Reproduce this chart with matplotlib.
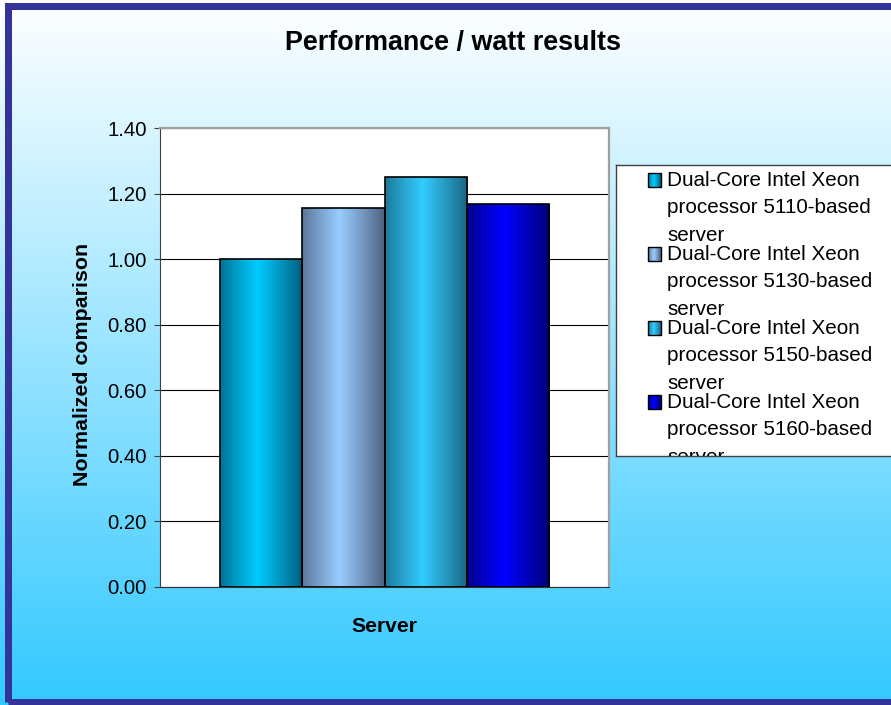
import numpy as np
import matplotlib
matplotlib.use("Agg")
import matplotlib.pyplot as plt
from matplotlib.patches import Rectangle
from matplotlib.colors import to_rgb

plt.rcParams['font.family'] = ['Liberation Sans', 'DejaVu Sans']

# ---- data ----
series = ["Dual-Core Intel Xeon\nprocessor 5110-based\nserver",
          "Dual-Core Intel Xeon\nprocessor 5130-based\nserver",
          "Dual-Core Intel Xeon\nprocessor 5150-based\nserver",
          "Dual-Core Intel Xeon\nprocessor 5160-based\nserver"]
values = [1.00, 1.157, 1.252, 1.168]
yticks = [0.0, 0.2, 0.4, 0.6, 0.8, 1.0, 1.2, 1.4]
title = "Performance / watt results"
xlabel = "Server"
ylabel = "Normalized comparison"

# gradient colours (edge dark, centre bright)
dark_cols = ["#005a78", "#4a5f7c", "#16627e", "#00006e"]
light_cols = ["#00ccff", "#99ccff", "#33ccff", "#0000ff"]

W, H = 891, 705
fig = plt.figure(figsize=(W / 100, H / 100), dpi=100)

def fx(px):
    return px / W

def fy(py):
    return 1 - py / H

# background gradient
bg = fig.add_axes([0, 0, 1, 1], zorder=-10)
grad = np.linspace(0, 1, 256)[:, None]
top = np.array(to_rgb("#ffffff"))
bot = np.array(to_rgb("#33c9ff"))
img = top[None, None, :] * (1 - grad[:, :, None]) + bot[None, None, :] * grad[:, :, None]
bg.imshow(img, aspect='auto', extent=(0, 1, 0, 1), origin='upper')
bg.set_xlim(0, 1)
bg.set_ylim(0, 1)
bg.axis('off')
# border
bg.add_patch(Rectangle((fx(7.5), fy(701.5)), fx(W + 20), fy(6) - fy(701.5),
                       transform=fig.transFigure, fill=False,
                       edgecolor="#333399", lw=7 * 0.72, clip_on=False))


def gradient_img(dark, light, n=200):
    t = np.linspace(0, 1, n)
    m = np.clip(1 - np.abs(t - 0.45) / 0.55, 0, 1) ** 0.9
    d = np.array(to_rgb(dark))
    l = np.array(to_rgb(light))
    row = d[None, :] * (1 - m[:, None]) + l[None, :] * m[:, None]
    return row[None, :, :]

# main axes
ax = fig.add_axes([fx(160), fy(587), (609 - 160) / W, (587 - 128) / H])
ax.set_facecolor('white')
pos = np.arange(len(values)) - (len(values) - 1) / 2
bw = 1.0
half = (449 / 82.3) / 2
ax.set_xlim(-half, half)
ax.set_ylim(0, 1.4)
ax.set_yticks(yticks)
ax.set_yticklabels([f"{v:.2f}" for v in yticks], fontsize=14.6)
ax.set_xticks([])
ax.yaxis.grid(True, color='black', lw=0.8)
ax.set_axisbelow(True)
for s in ['top', 'right']:
    ax.spines[s].set_color('#a0a0a0')
    ax.spines[s].set_linewidth(1.6)
ax.spines['left'].set_color('#404040')
ax.spines['bottom'].set_color('#303030')
ax.tick_params(axis='y', length=4.5, width=0.8, pad=5, color='#404040')

bars = ax.bar(pos, values, width=bw, facecolor='none', edgecolor='black',
              lw=1.2, zorder=3)
for b, d, l in zip(bars, dark_cols, light_cols):
    x0 = b.get_x()
    im = ax.imshow(gradient_img(d, l), aspect='auto',
                   extent=(x0, x0 + b.get_width(), 0, b.get_height()),
                   zorder=2, interpolation='bilinear')
    im.set_clip_path(b)
ax.set_xlim(-half, half)
ax.set_ylim(0, 1.4)

ax.set_ylabel(ylabel, fontsize=15.4, fontweight='bold', va='center')
ax.yaxis.set_label_coords((83 - 160) / 449, (587 - 364.5) / 459)
ax.set_xlabel(xlabel, fontsize=15.2, fontweight='bold', va='center')
ax.xaxis.set_label_coords(0.5, (587 - 626) / 459)

fig.text(fx(453.5), fy(43), title, fontsize=19.4, fontweight='bold',
         ha='center', va='center')

# legend box (clipped by figure edge like the original)
lx0, lx1, ly0, ly1 = 616, 900, 165, 456
lax = fig.add_axes([fx(lx0), fy(ly1), (lx1 - lx0) / W, (ly1 - ly0) / H])
lax.set_xlim(0, lx1 - lx0)
lax.set_ylim(ly1 - ly0, 0)
lax.set_xticks([])
lax.set_yticks([])
lax.set_facecolor('white')
for s in lax.spines.values():
    s.set_color('#404040')
    s.set_linewidth(1.0)
for i, (lab, d, l) in enumerate(zip(series, dark_cols, light_cols)):
    base = 186 - ly0 + i * 74
    mk = Rectangle((648 - lx0, base - 13), 13, 14, facecolor='none',
                   edgecolor='black', lw=1.0, zorder=3)
    lax.add_patch(mk)
    im = lax.imshow(gradient_img(d, l), aspect='auto',
                    extent=(648 - lx0, 661 - lx0, base + 1, base - 13),
                    zorder=2)
    im.set_clip_path(mk)
    for j, line in enumerate(lab.split("\n")):
        lax.text(667 - lx0, base + j * 27.3, line, fontsize=14.9,
                 va='baseline', ha='left', clip_on=True)
lax.set_xlim(0, lx1 - lx0)
lax.set_ylim(ly1 - ly0, 0)

fig.savefig("out.png", dpi=100)
